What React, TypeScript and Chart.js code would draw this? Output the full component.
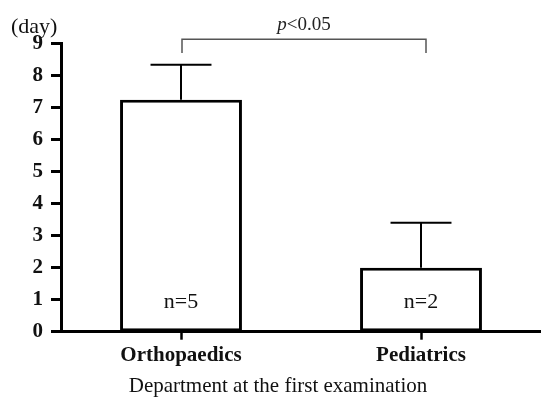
import React, { useEffect, useRef } from "react";
import { Chart, registerables } from "chart.js";

Chart.register(...registerables);

const categories = ["Orthopaedics", "Pediatrics"];
const means = [7.24, 2.0];
const sds = [1.1, 1.4];
const sampleLabels = ["n=5", "n=2"];
const yTicks = [0, 1, 2, 3, 4, 5, 6, 7, 8, 9];
const yUnit = "(day)";
const xTitle = "Department at the first examination";
const sigText = "p<0.05";
const bracketTop = 9.13;
const bracketBottom = 8.7;

const SERIF = "'Liberation Serif', 'Times New Roman', serif";

const overlay = {
  id: "overlay",
  afterDatasetsDraw(chart: any) {
    const ctx = chart.ctx;
    const y = chart.scales.y;
    const meta = chart.getDatasetMeta(0);
    ctx.save();
    // error bars
    ctx.strokeStyle = "#000";
    ctx.lineWidth = 2;
    meta.data.forEach((bar: any, i: number) => {
      const x = bar.x;
      const top = y.getPixelForValue(means[i] + sds[i]);
      const half = bar.width * 0.25;
      ctx.beginPath();
      ctx.moveTo(x, bar.y);
      ctx.lineTo(x, top);
      ctx.moveTo(x - half, top);
      ctx.lineTo(x + half, top);
      ctx.stroke();
    });
    // n labels
    ctx.fillStyle = "#111";
    ctx.font = `22px ${SERIF}`;
    ctx.textAlign = "center";
    ctx.textBaseline = "middle";
    meta.data.forEach((bar: any, i: number) => {
      ctx.fillText(sampleLabels[i], bar.x, 302);
    });
    // bracket
    const x1 = meta.data[0].x + 1;
    const x2 = meta.data[1].x + 5;
    const yt = y.getPixelForValue(bracketTop);
    const yb = y.getPixelForValue(bracketBottom);
    ctx.strokeStyle = "#555";
    ctx.lineWidth = 1.5;
    ctx.beginPath();
    ctx.moveTo(x1, yb);
    ctx.lineTo(x1, yt);
    ctx.lineTo(x2, yt);
    ctx.lineTo(x2, yb);
    ctx.stroke();
    // p text
    ctx.fillStyle = "#222";
    ctx.textBaseline = "alphabetic";
    ctx.textAlign = "left";
    ctx.font = `italic 19px ${SERIF}`;
    const pW = ctx.measureText("p").width;
    ctx.font = `19px ${SERIF}`;
    const restW = ctx.measureText(sigText.slice(1)).width;
    const cx = (x1 + x2) / 2;
    let sx = cx - (pW + restW) / 2;
    ctx.font = `italic 19px ${SERIF}`;
    ctx.fillText("p", sx, 30);
    ctx.font = `19px ${SERIF}`;
    ctx.fillText(sigText.slice(1), sx + pW, 30);
    // unit label
    ctx.fillStyle = "#111";
    ctx.font = `22px ${SERIF}`;
    ctx.fillText(yUnit, 11, 33);
    // x title
    ctx.textAlign = "center";
    ctx.font = `21px ${SERIF}`;
    ctx.fillText(xTitle, 278, 392);
    ctx.restore();
  },
};

export default function App() {
  const ref = useRef<HTMLCanvasElement | null>(null);
  useEffect(() => {
    if (!ref.current) return;
    const chart = new Chart(ref.current, {
      type: "bar",
      data: {
        labels: categories,
        datasets: [
          {
            data: means,
            backgroundColor: "#fff",
            borderColor: "#000",
            borderWidth: 3,
            borderSkipped: false,
            barPercentage: 0.508,
            categoryPercentage: 1,
          },
        ],
      },
      options: {
        responsive: false,
        animation: false,
        devicePixelRatio: 1,
        layout: { padding: { top: 43.5, left: 0, right: 0, bottom: 0 } },
        plugins: { legend: { display: false }, tooltip: { enabled: false } },
        scales: {
          x: {
            offset: true,
            grid: {
              display: true,
              drawOnChartArea: false,
              drawTicks: true,
              offset: false,
              tickLength: 8,
              tickColor: "#000",
              tickWidth: 2.5,
            },
            border: { display: true, color: "#000", width: 3 },
            ticks: {
              color: "#111",
              padding: 3,
              font: { family: SERIF, size: 21, weight: "bold" },
            },
            afterFit(s: any) {
              s.height = 68.3;
            },
          },
          y: {
            min: 0,
            max: 9,
            afterBuildTicks(s: any) {
              s.ticks = yTicks.map((v) => ({ value: v }));
            },
            grid: {
              display: true,
              drawOnChartArea: false,
              drawTicks: true,
              tickLength: 10,
              tickColor: "#000",
              tickWidth: 3,
            },
            border: { display: true, color: "#000", width: 3 },
            ticks: {
              color: "#111",
              padding: 8,
              font: { family: SERIF, size: 21, weight: "bold" },
            },
            afterFit(s: any) {
              s.width = 61;
            },
          },
        },
      } as any,
      plugins: [overlay],
    });
    return () => chart.destroy();
  }, []);
  return (
    <div style={{ position: "absolute", left: 0, top: 0, width: 541, height: 400, background: "#fff" }}>
      <canvas ref={ref} width={541} height={400} style={{ display: "block", width: 541, height: 400 }} />
    </div>
  );
}
